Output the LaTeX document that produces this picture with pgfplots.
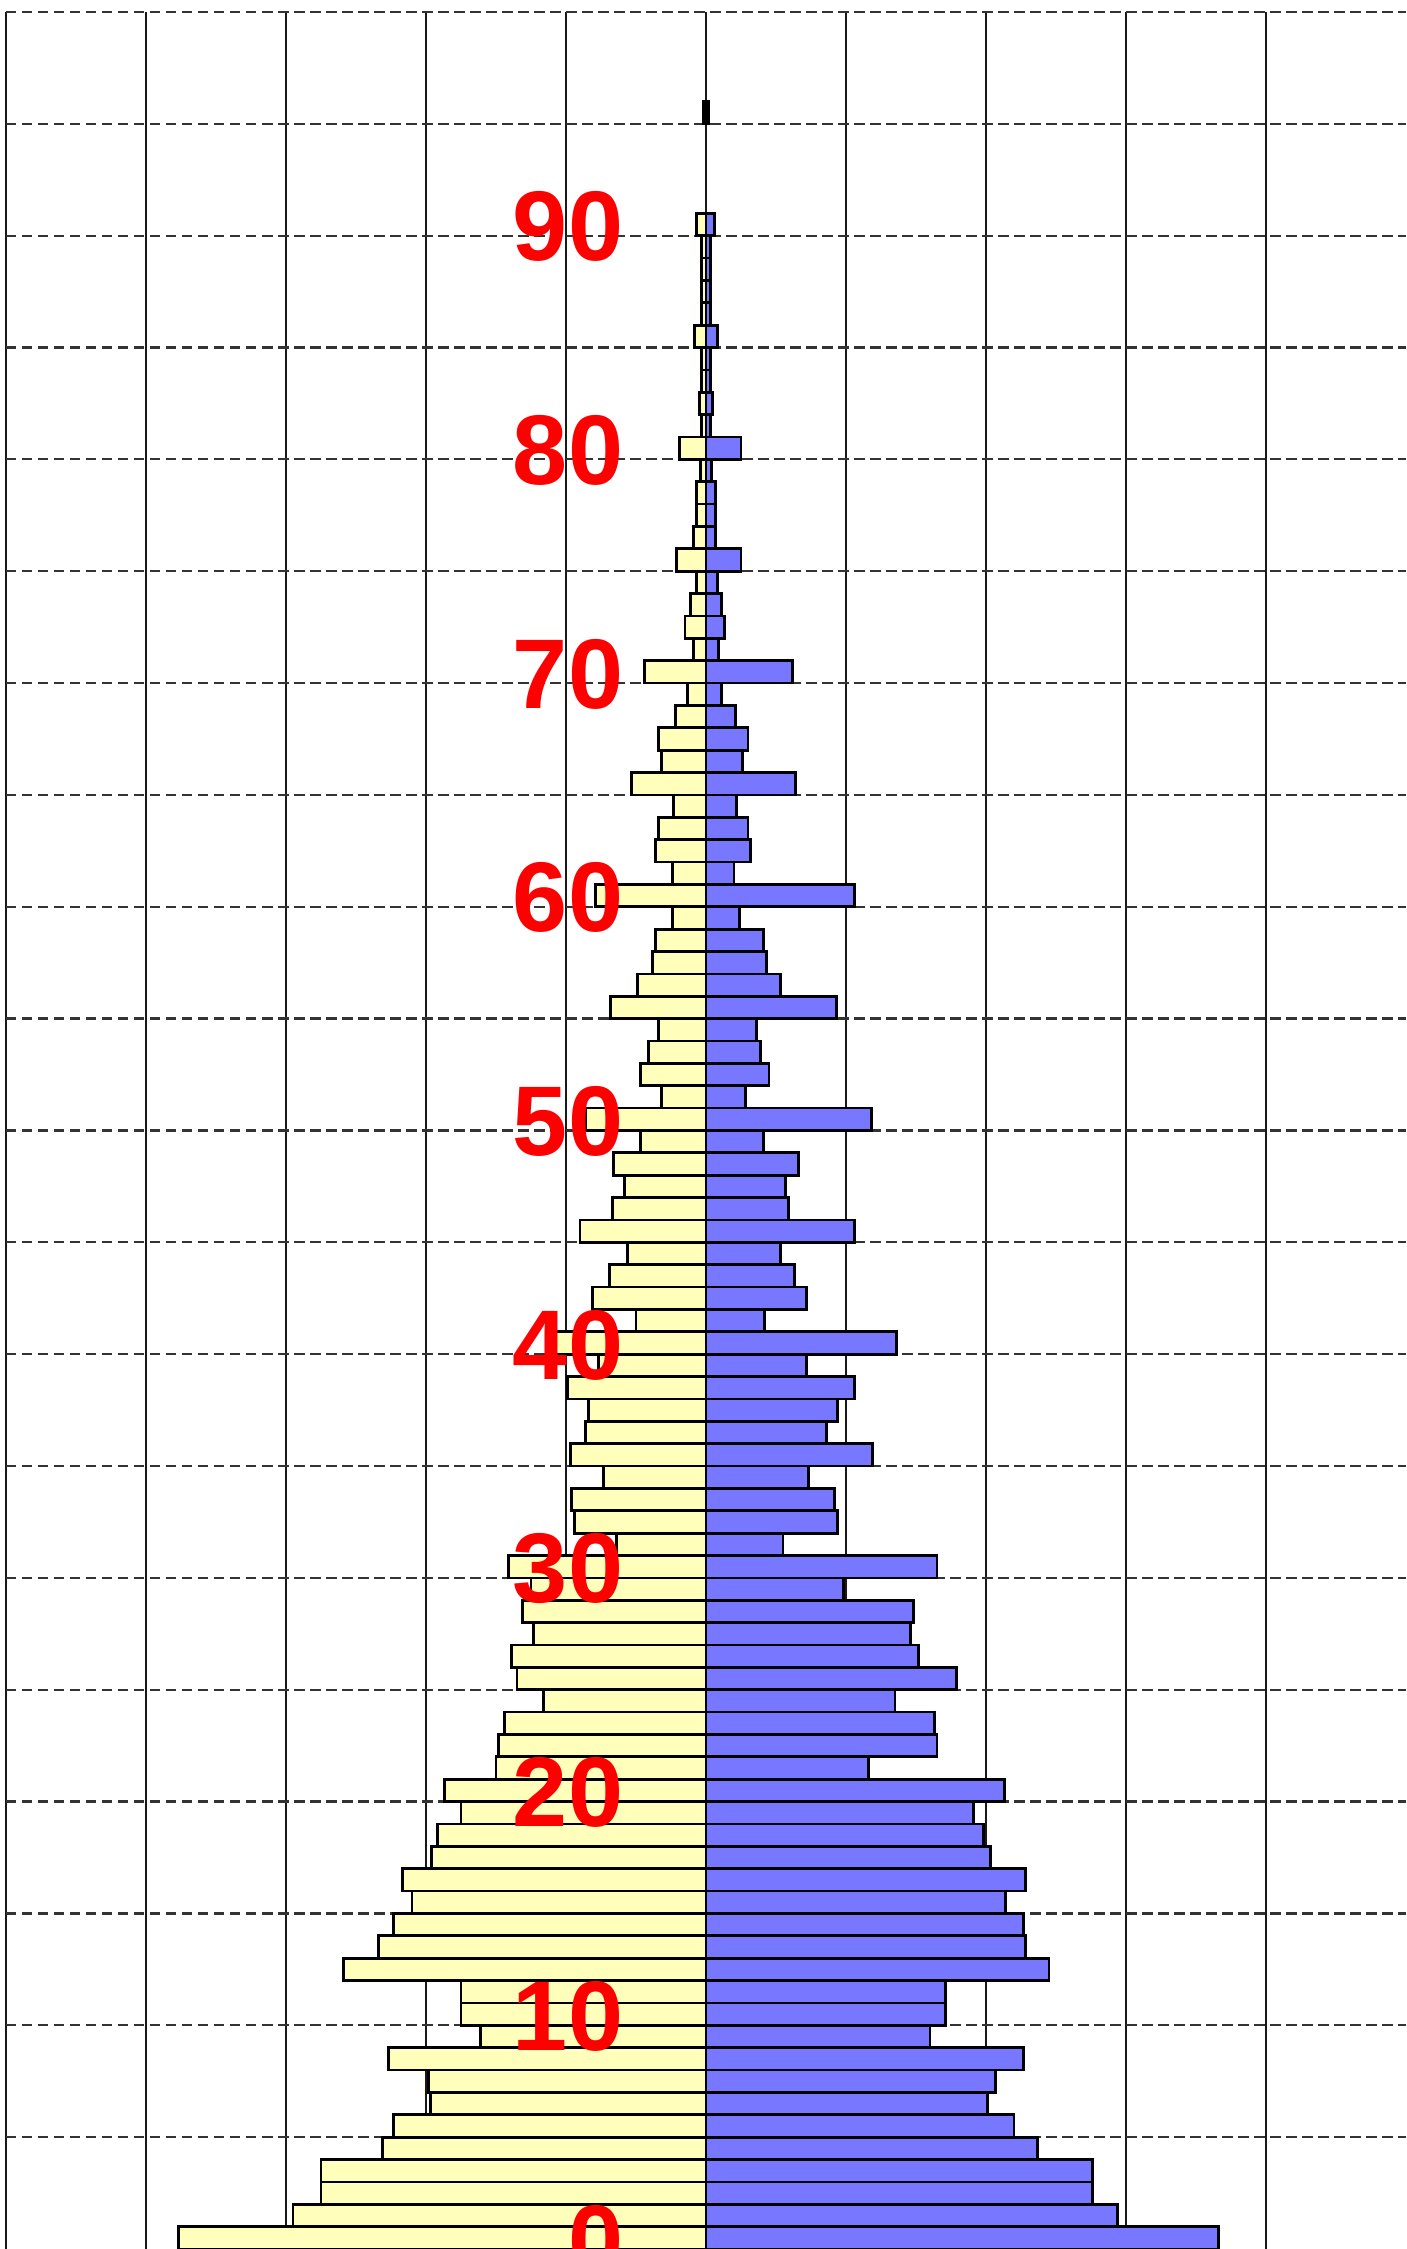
\documentclass[border=0pt]{standalone}
\usepackage{pgfplots}
\pgfplotsset{compat=1.18}
\usepackage{pgfplotstable}
\usepackage{fontspec}
\setmainfont{Liberation Sans}
\definecolor{fem}{RGB}{255,255,187}
\definecolor{mal}{RGB}{119,119,255}
\pgfplotstableread{
age f m
0 -3.77 3.66
1 -2.95 2.94
2 -2.75 2.76
3 -2.75 2.76
4 -2.31 2.37
5 -2.23 2.20
6 -1.97 2.01
7 -1.98 2.07
8 -2.27 2.27
9 -1.61 1.60
10 -1.75 1.71
11 -1.75 1.71
12 -2.59 2.45
13 -2.34 2.28
14 -2.23 2.27
15 -2.10 2.14
16 -2.17 2.28
17 -1.96 2.03
18 -1.92 1.98
19 -1.75 1.91
20 -1.87 2.13
21 -1.50 1.16
22 -1.48 1.65
23 -1.44 1.63
24 -1.16 1.35
25 -1.35 1.79
26 -1.39 1.52
27 -1.23 1.46
28 -1.31 1.48
29 -1.25 0.98
30 -1.41 1.65
31 -0.64 0.55
32 -0.94 0.94
33 -0.96 0.92
34 -0.73 0.73
35 -0.97 1.19
36 -0.86 0.86
37 -0.84 0.94
38 -0.99 1.06
39 -0.77 0.72
40 -1.12 1.36
41 -0.50 0.42
42 -0.81 0.72
43 -0.69 0.63
44 -0.56 0.53
45 -0.90 1.06
46 -0.67 0.59
47 -0.58 0.57
48 -0.66 0.66
49 -0.47 0.41
50 -0.86 1.18
51 -0.32 0.28
52 -0.47 0.45
53 -0.41 0.39
54 -0.34 0.36
55 -0.68 0.93
56 -0.49 0.53
57 -0.38 0.43
58 -0.36 0.41
59 -0.24 0.24
60 -0.79 1.06
61 -0.24 0.20
62 -0.36 0.32
63 -0.34 0.30
64 -0.23 0.22
65 -0.53 0.64
66 -0.32 0.26
67 -0.34 0.30
68 -0.22 0.21
69 -0.13 0.11
70 -0.44 0.62
71 -0.09 0.09
72 -0.15 0.13
73 -0.11 0.11
74 -0.07 0.08
75 -0.21 0.25
76 -0.09 0.07
77 -0.07 0.07
78 -0.07 0.07
79 -0.04 0.04
80 -0.19 0.25
81 -0.03 0.03
82 -0.045 0.045
83 -0.03 0.03
84 -0.03 0.03
85 -0.08 0.08
86 -0.03 0.03
87 -0.03 0.03
88 -0.03 0.03
89 -0.03 0.03
90 -0.07 0.06
95 -0.02 0.02
}\pyr
\begin{document}
\begin{tikzpicture}
\useasboundingbox (0,0) rectangle (281.2pt,449.8pt);
\begin{axis}[
  at={(1.2pt,0pt)}, anchor=south west,
  scale only axis, width=280pt, height=447.4pt,
  xmin=-5, xmax=5, ymin=-0.5, ymax=99.5,
  axis line style={draw=none}, tick style={draw=none},
  xtick={-5,-4,...,4}, ytick={4.5,9.5,...,99.5},
  xticklabels={}, yticklabels={},
  xmajorgrids, ymajorgrids,
  x grid style={black!90, line width=0.45pt},
  y grid style={black!80, line width=0.45pt, dash pattern=on 2.1pt off 1.1pt},
  xbar, bar width=1,
]
\addplot[xbar, bar shift=0pt, draw=black, line width=0.55pt, fill=fem] table[x=f, y=age] {\pyr};
\addplot[xbar, bar shift=0pt, draw=black, line width=0.55pt, fill=mal] table[x=m, y=age] {\pyr};
\pgfplotsinvokeforeach{0,10,...,90}{
  \node[anchor=east, inner sep=0pt, text=red, font=\fontsize{19.8}{20}\selectfont\bfseries] at (axis cs:-0.585,#1-0.1) {#1};
}
\end{axis}
\end{tikzpicture}
\end{document}
